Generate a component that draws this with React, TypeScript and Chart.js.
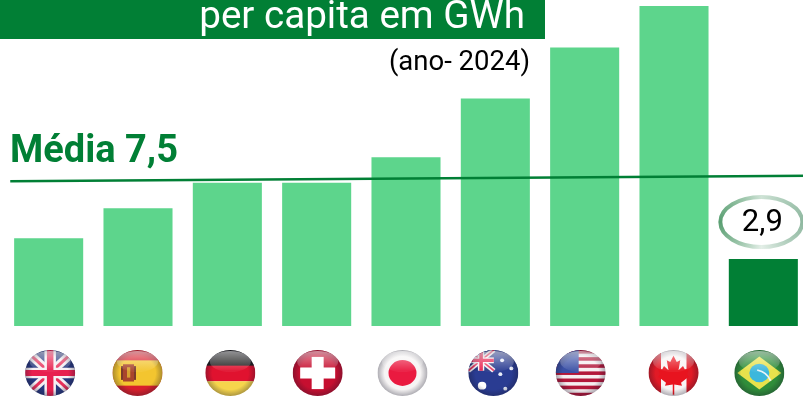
import React, { useEffect, useRef } from "react";
import { Chart, registerables } from "chart.js";

Chart.register(...registerables);

const countries = ["Reino Unido", "Espanha", "Alemanha", "Suíça", "Japão", "Austrália", "EUA", "Canadá", "Brasil"];
const values = [3.8, 5.1, 6.2, 6.2, 7.3, 9.85, 12.05, 13.85, 2.9];
const averageLine = [
  { x: -0.43, y: 6.26 },
  { x: 8.5, y: 6.5 },
];
const titleText = "per capita em GWh";
const yearText = "(ano- 2024)";
const averageText = "Média 7,5";
const flagOffsets = [1.5, -0.5, 3, 1, -3.5, -2, -4, -0.5, -4];

const DARK = "#017f35";
const LIGHT = "#5dd58c";

type C = CanvasRenderingContext2D;

function rect(c: C, color: string, x: number, y: number, w: number, h: number) {
  c.fillStyle = color;
  c.fillRect(x, y, w, h);
}

function poly(c: C, color: string, pts: number[][]) {
  c.fillStyle = color;
  c.beginPath();
  pts.forEach((p, i) => (i ? c.lineTo(p[0], p[1]) : c.moveTo(p[0], p[1])));
  c.closePath();
  c.fill();
}

function disc(c: C, color: string, x: number, y: number, r: number) {
  c.fillStyle = color;
  c.beginPath();
  c.arc(x, y, r, 0, Math.PI * 2);
  c.fill();
}

function union(c: C, x0: number, y0: number, x1: number, y1: number, k: number) {
  const navy = "#27387f";
  rect(c, navy, x0, y0, x1 - x0, y1 - y0);
  const line = (col: string, w: number, a: number[], b: number[]) => {
    c.strokeStyle = col;
    c.lineWidth = w * k;
    c.beginPath();
    c.moveTo(a[0], a[1]);
    c.lineTo(b[0], b[1]);
    c.stroke();
  };
  const mx = (x0 + x1) / 2;
  const my = (y0 + y1) / 2;
  line("#f4eef2", 0.36, [x0, y0], [x1, y1]);
  line("#f4eef2", 0.36, [x0, y1], [x1, y0]);
  line("#e8305a", 0.13, [x0, y0], [x1, y1]);
  line("#e8305a", 0.13, [x0, y1], [x1, y0]);
  line("#f7f0f4", 0.46, [mx, y0], [mx, y1]);
  line("#f7f0f4", 0.46, [x0, my], [x1, my]);
  line("#e8204f", 0.26, [mx, y0], [mx, y1]);
  line("#e8204f", 0.26, [x0, my], [x1, my]);
}

const flags: ((c: C) => void)[] = [
  (c) => union(c, -1, -1, 1, 1, 1),
  (c) => {
    rect(c, "#d8202c", -1, -1, 2, 2);
    rect(c, "#f3c52f", -1, -0.55, 2, 1.1);
    rect(c, "#a8442c", -0.58, -0.38, 0.44, 0.75);
    rect(c, "#d8a030", -0.42, -0.25, 0.13, 0.45);
    rect(c, "#7a3a2a", -0.66, -0.3, 0.08, 0.6);
    rect(c, "#7a3a2a", -0.14, -0.3, 0.08, 0.6);
  },
  (c) => {
    rect(c, "#1f1f1f", -1, -1, 2, 0.7);
    rect(c, "#e0122f", -1, -0.32, 2, 0.68);
    rect(c, "#f6d54c", -1, 0.36, 2, 0.7);
  },
  (c) => {
    rect(c, "#c60f30", -1, -1, 2, 2);
    rect(c, "#ffffff", -0.24, -0.7, 0.48, 1.4);
    rect(c, "#ffffff", -0.7, -0.24, 1.4, 0.48);
  },
  (c) => {
    rect(c, "#f6f4f4", -1, -1, 2, 2);
    disc(c, "#ea1a40", 0, 0, 0.56);
  },
  (c) => {
    rect(c, "#2a3c92", -1, -1, 2, 2);
    union(c, -1, -1, 0.02, -0.1, 0.55);
    disc(c, "#ffffff", -0.45, 0.55, 0.17);
    [[0.35, -0.55], [0.72, -0.2], [0.28, 0.05], [0.48, 0.68]].forEach((p) => disc(c, "#e8ecf8", p[0], p[1], 0.08));
  },
  (c) => {
    rect(c, "#f6eef0", -1, -1, 2, 2);
    for (let i = 0; i < 7; i++) rect(c, "#b3183a", -1, -1 + i * 0.31, 2, 0.155);
    rect(c, "#3a50a5", -1, -1, 0.92, 1.0);
  },
  (c) => {
    rect(c, "#f8f4f4", -1, -1, 2, 2);
    rect(c, "#e21a26", -1, -1, 0.5, 2);
    rect(c, "#e21a26", 0.52, -1, 0.5, 2);
    poly(c, "#e8141f", [
      [0, -0.75], [0.13, -0.48], [0.27, -0.55], [0.2, -0.12], [0.38, -0.3], [0.45, -0.16], [0.62, -0.2],
      [0.54, 0.08], [0.62, 0.15], [0.3, 0.42], [0.34, 0.55], [0.03, 0.5], [0.03, 0.95], [-0.03, 0.95],
      [-0.03, 0.5], [-0.34, 0.55], [-0.3, 0.42], [-0.62, 0.15], [-0.54, 0.08], [-0.62, -0.2], [-0.45, -0.16],
      [-0.38, -0.3], [-0.2, -0.12], [-0.27, -0.55], [-0.13, -0.48],
    ]);
  },
  (c) => {
    rect(c, "#2f8d3a", -1, -1, 2, 2);
    poly(c, "#e8e24c", [[0, -0.72], [0.88, 0], [0, 0.72], [-0.88, 0]]);
    disc(c, "#3cb7dc", 0, 0, 0.4);
    c.strokeStyle = "#e8f4f8";
    c.lineWidth = 0.07;
    c.beginPath();
    c.arc(-0.25, 0.6, 0.75, -1.35, -0.35);
    c.stroke();
  },
];

function drawFlag(c: C, i: number, cx: number, cy: number) {
  c.save();
  c.filter = "blur(0.6px)";
  c.translate(cx, cy);
  c.scale(25, 23);
  c.beginPath();
  c.arc(0, 0, 1, 0, Math.PI * 2);
  c.clip();
  flags[i](c);
  c.filter = "none";
  const edge = c.createRadialGradient(0, 0, 0.72, 0, 0, 1);
  edge.addColorStop(0, "rgba(20,20,40,0)");
  edge.addColorStop(1, "rgba(20,20,40,0.32)");
  c.fillStyle = edge;
  c.fillRect(-1, -1, 2, 2);
  const gloss = c.createLinearGradient(0, -1, 0, -0.1);
  gloss.addColorStop(0, "rgba(255,255,255,0.55)");
  gloss.addColorStop(1, "rgba(255,255,255,0.05)");
  c.fillStyle = gloss;
  c.beginPath();
  c.ellipse(0, -0.5, 0.82, 0.46, 0, 0, Math.PI * 2);
  c.fill();
  c.restore();
}

const overlay = {
  id: "overlay",
  afterDatasetsDraw(chart: Chart) {
    const c = chart.ctx as C;
    c.save();
    rect(c, DARK, 0, 0, 545, 39);
    c.textBaseline = "alphabetic";
    c.textAlign = "right";
    c.fillStyle = "#ffffff";
    c.font = "400 38.6px Roboto";
    c.fillText(titleText, 525, 28);
    c.fillStyle = "#000000";
    c.font = "400 27.5px Roboto";
    c.fillText(yearText, 530, 70);
    c.textAlign = "left";
    c.fillStyle = DARK;
    c.font = "700 38px Roboto";
    c.fillText(averageText, 10, 162);

    const x = chart.scales.x;
    countries.forEach((_, i) => drawFlag(c, i, x.getPixelForValue(i) + flagOffsets[i], 373));

    const last = values.length - 1;
    const bar = chart.getDatasetMeta(1).data[last];
    const ex = bar.x - 2;
    const ey = bar.y - 37;
    const ring = c.createConicGradient(Math.PI, ex, ey);
    ring.addColorStop(0, "#5a9f72");
    ring.addColorStop(0.25, "#cfe3d6");
    ring.addColorStop(0.5, "#8fb8a0");
    ring.addColorStop(0.75, "#e4efe8");
    ring.addColorStop(1, "#5a9f72");
    c.strokeStyle = ring;
    c.lineWidth = 4;
    c.beginPath();
    c.ellipse(ex, ey, 41, 25, 0, 0, Math.PI * 2);
    c.stroke();
    c.fillStyle = "#000000";
    c.font = "400 31px Roboto";
    c.textAlign = "center";
    c.textBaseline = "middle";
    c.fillText(String(values[last]).replace(".", ","), ex + 1, ey + 1);
    c.restore();
  },
};

export default function App() {
  const ref = useRef<HTMLCanvasElement>(null);
  useEffect(() => {
    document.body.style.margin = "0";
    const chart = new Chart(ref.current!, {
      type: "bar",
      data: {
        labels: countries,
        datasets: [
          {
            type: "line",
            data: averageLine as any,
            xAxisID: "x2",
            borderColor: DARK,
            borderWidth: 2.5,
            pointRadius: 0,
            order: 0,
            clip: false,
          } as any,
          {
            type: "bar",
            data: values,
            backgroundColor: values.map((_, i) => (i === values.length - 1 ? DARK : LIGHT)),
            barPercentage: 0.773,
            categoryPercentage: 1,
            grouped: false,
            order: 1,
          },
        ],
      },
      options: {
        responsive: false,
        animation: false,
        layout: { padding: { left: 4, right: 0, top: 0, bottom: 74 } },
        plugins: { legend: { display: false }, tooltip: { enabled: false } },
        scales: {
          x: { display: false },
          x2: { type: "linear", display: false, min: -0.5, max: 8.5, offset: false },
          y: { display: false, min: 0, max: 14.11 },
        },
      },
      plugins: [overlay],
    });
    return () => chart.destroy();
  }, []);
  return (
    <div style={{ position: "absolute", left: 0, top: 0, width: 803, height: 400, overflow: "hidden", background: "#fff" }}>
      <canvas ref={ref} width={808} height={400} style={{ display: "block" }} />
    </div>
  );
}
